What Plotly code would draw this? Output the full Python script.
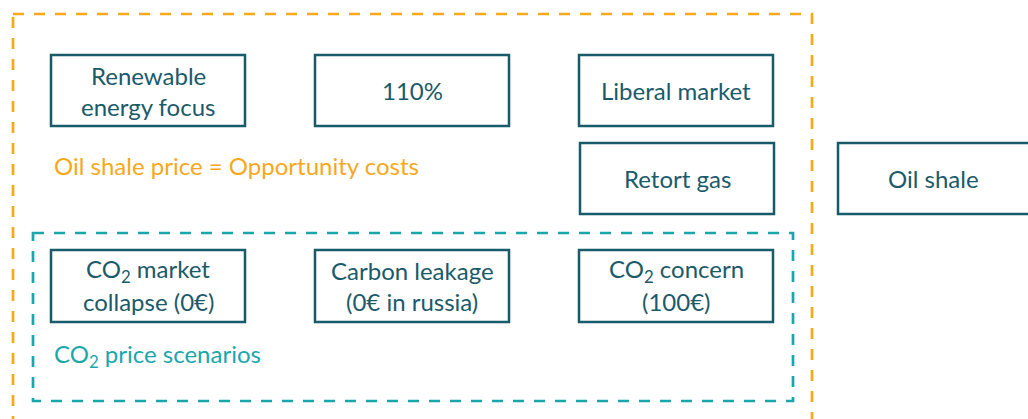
"""Oil shale pricing scenario diagram."""
import plotly.graph_objects as go

# ── Colors ─────────────────────────────────────────────────────────────────────
COLORS = {
    "box": "#175A69",
    "text": "#1A5A6A",
    "orange": "#F7A81B",
    "teal": "#1AA7AC",
}
FONT = "Lato"

# ── Diagram content ────────────────────────────────────────────────────────────
box_labels = [
    ["Renewable", "energy focus"],
    ["110%"],
    ["Liberal market"],
    ["Retort gas"],
    ["Oil shale"],
    ["CO<sub>2</sub> market", "collapse (0€)"],
    ["Carbon leakage", "(0€ in russia)"],
    ["CO<sub>2</sub> concern", "(100€)"],
]
group_labels = ["Oil shale price = Opportunity costs", "CO<sub>2</sub> price scenarios"]

# box geometry in page pixels (x0, y0, x1, y1)
box_pos = [
    (51, 55, 245, 126),
    (315, 55, 509, 126),
    (579, 55, 773, 126),
    (580, 143, 774, 214),
    (838, 143, 1045, 214),
    (51, 250, 245, 322),
    (315, 250, 509, 322),
    (579, 250, 773, 322),
]
group_pos = [(13, 14, 812, 440), (33, 233, 793, 401)]
group_label_pos = [(52, 165), (52, 355)]
group_colors = [COLORS["orange"], COLORS["teal"]]

W, H = 1028, 419
LINE_GAP = 31

fig = go.Figure()

# dashed group frames
for (x0, y0, x1, y1), c in zip(group_pos, group_colors):
    fig.add_shape(type="rect", x0=x0, y0=y0, x1=x1, y1=y1,
                  line=dict(color=c, width=2.7, dash="11px,10px"))

for (x, y), txt, c in zip(group_label_pos, group_labels, group_colors):
    fig.add_annotation(x=x, y=y, text=txt, showarrow=False, xanchor="left",
                       yanchor="middle", font=dict(family=FONT, size=24, color=c))

# solid boxes
for (x0, y0, x1, y1), lines in zip(box_pos, box_labels):
    fig.add_shape(type="rect", x0=x0, y0=y0, x1=x1, y1=y1,
                  line=dict(color=COLORS["box"], width=2.5))
    cx, cy = (x0 + min(x1, W)) / 2, (y0 + y1) / 2
    n = len(lines)
    for i, ln in enumerate(lines):
        fig.add_annotation(x=cx, y=cy + (i - (n - 1) / 2) * LINE_GAP, text=ln,
                           showarrow=False, xanchor="center", yanchor="middle",
                           font=dict(family=FONT, size=24, color=COLORS["text"]))

fig.update_layout(
    width=W, height=H,
    margin=dict(l=0, r=0, t=0, b=0),
    paper_bgcolor="white", plot_bgcolor="white",
    showlegend=False,
    xaxis=dict(range=[0, W], visible=False, fixedrange=True),
    yaxis=dict(range=[H, 0], visible=False, fixedrange=True),
)

# drop the default page margin so the figure fills the window exactly
fig.write_html(
    "out.html",
    config={"displayModeBar": False},
    post_script="document.body.style.margin='0';document.body.style.overflow='hidden';",
)
